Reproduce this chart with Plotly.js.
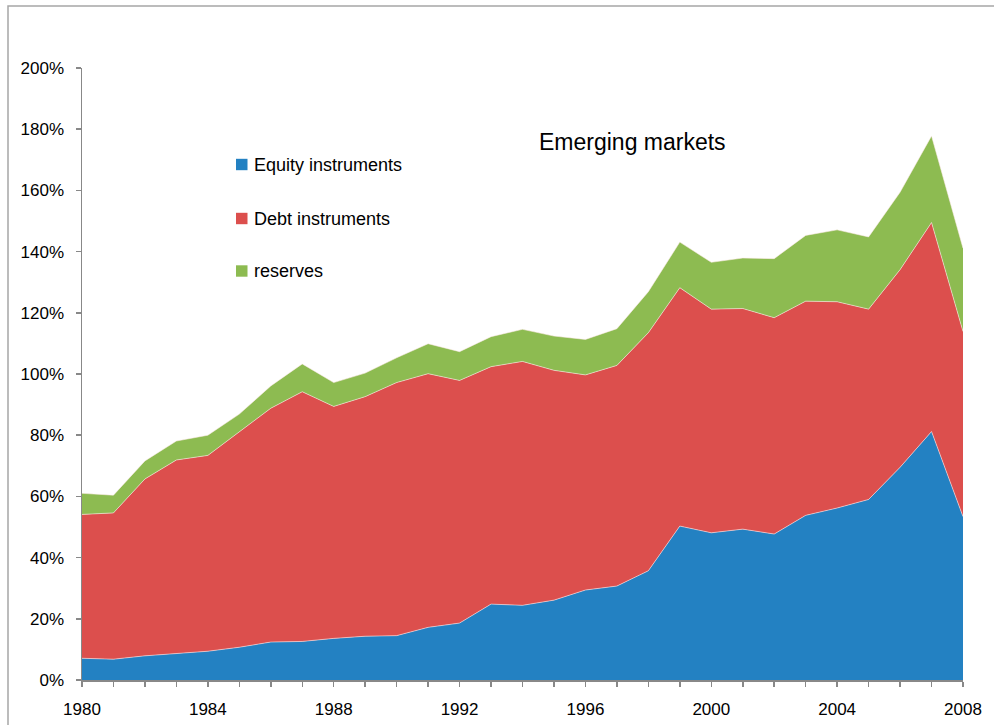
<!DOCTYPE html>
<html>
<head>
<meta charset="utf-8">
<script src="https://cdn.plot.ly/plotly-3.0.1.min.js"></script>
<style>html,body{margin:0;padding:0;background:#fff;}#chart{width:994px;height:725px;}</style>
</head>
<body>
<div id="chart"></div>
<script>
const years = [1980,1981,1982,1983,1984,1985,1986,1987,1988,1989,1990,1991,1992,1993,1994,1995,1996,1997,1998,1999,2000,2001,2002,2003,2004,2005,2006,2007,2008];
const equity = [7.1,6.8,7.9,8.7,9.4,10.7,12.4,12.6,13.6,14.3,14.5,17.2,18.6,24.8,24.4,26.1,29.4,30.7,35.7,50.3,48.1,49.3,47.7,53.8,56.2,59.0,69.5,81.2,53.4];
const debt = [47.0,47.8,57.8,63.2,64.0,70.4,76.4,81.6,75.8,78.3,82.7,82.9,79.3,77.6,79.7,75.1,70.3,72.1,77.8,77.9,73.1,72.1,70.7,70.0,67.4,62.2,64.6,68.3,60.5];
const reserves = [6.9,5.8,5.9,6.2,6.6,5.8,7.3,9.1,7.8,7.7,8.1,9.8,9.4,9.8,10.5,11.2,11.6,12.0,13.4,14.9,15.3,16.5,19.3,21.5,23.5,23.6,25.3,28.3,27.2];
const seriesNames = ["Equity instruments","Debt instruments","reserves"];
const seriesColors = ["#2381C2","#DC4F4D","#8DBB51"];
const chartTitle = "Emerging markets";

const W = 994, H = 725;
const M = {l:82, r:31, t:68, b:45};
const pw = W - M.l - M.r, ph = H - M.t - M.b;
const px = x => (x - M.l) / pw;
const py = y => (H - M.b - y) / ph;

const font = "Liberation Sans, Arial, sans-serif";
const seriesData = [equity, debt, reserves];
const traces = seriesData.map((vals, i) => ({
  type: 'scatter', mode: 'lines', x: years, y: vals,
  stackgroup: 'one', name: seriesNames[i],
  fillcolor: seriesColors[i],
  line: {width: 0.8, color: 'rgba(255,235,235,0.7)'},
  showlegend: false, hoverinfo: 'x+y+name'
}));

const shapes = [{
  type: 'rect', xref: 'paper', yref: 'paper',
  x0: px(8), x1: px(1005), y0: py(735), y1: py(6),
  line: {color: '#a6a6a6', width: 1.5}, fillcolor: 'rgba(0,0,0,0)', layer: 'below'
}];
const annotations = [{
  xref: 'paper', yref: 'paper', x: px(632.5), y: py(142), xanchor: 'center', yanchor: 'middle',
  text: chartTitle, showarrow: false, font: {family: font, size: 23, color: '#000'}
}];
const legendY = [164.5, 218.5, 271];
seriesNames.forEach((n, i) => {
  shapes.push({
    type: 'rect', xref: 'paper', yref: 'paper',
    x0: px(236), x1: px(247.5), y0: py(legendY[i] + 5.7), y1: py(legendY[i] - 5.7),
    line: {width: 0}, fillcolor: seriesColors[i]
  });
  annotations.push({
    xref: 'paper', yref: 'paper', x: px(252), y: py(legendY[i]), xanchor: 'left', yanchor: 'middle',
    text: n, showarrow: false, font: {family: font, size: 18, color: '#000'}
  });
});

const axColor = '#888888';
const layout = {
  width: W, height: H,
  margin: M,
  paper_bgcolor: '#fff', plot_bgcolor: '#fff',
  showlegend: false,
  font: {family: font, size: 17, color: '#000'},
  xaxis: {
    range: [1980, 2008], tick0: 1980, dtick: 4, tickmode: 'linear',
    ticks: 'outside', ticklen: 5, tickcolor: axColor, tickwidth: 1.5,
    showline: true, linecolor: axColor, linewidth: 1.5,
    showgrid: false, zeroline: false,
    ticklabelstandoff: 8,
    minor: {dtick: 1, ticks: 'outside', ticklen: 5, tickcolor: axColor, tickwidth: 1.5, showgrid: false},
    tickfont: {family: font, size: 17, color: '#000'}
  },
  yaxis: {
    range: [0, 200], dtick: 20, tick0: 0, tickmode: 'linear', ticksuffix: '%',
    ticks: 'outside', ticklen: 5, tickcolor: axColor, tickwidth: 1.5,
    showline: true, linecolor: axColor, linewidth: 1.5,
    showgrid: false, zeroline: false,
    ticklabelstandoff: 8,
    tickfont: {family: font, size: 17, color: '#000'}
  },
  shapes: shapes,
  annotations: annotations
};
Plotly.newPlot('chart', traces, layout, {displayModeBar: false, staticPlot: true});
</script>
</body>
</html>
